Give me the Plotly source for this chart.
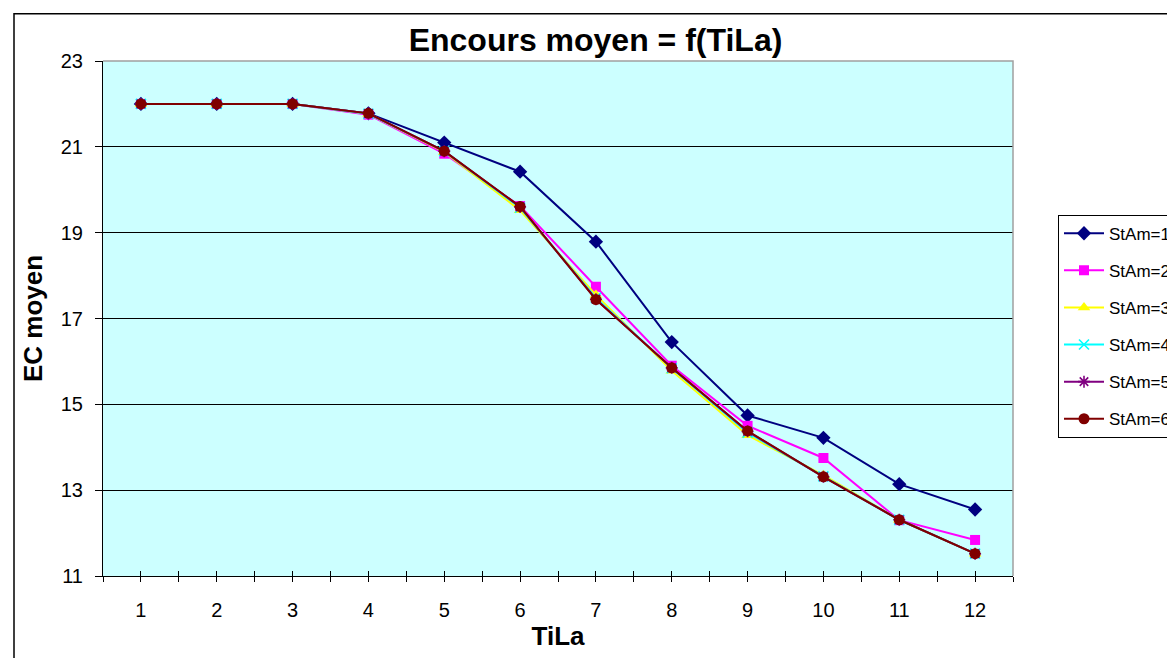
import plotly.graph_objects as go

tila = [1, 2, 3, 4, 5, 6, 7, 8, 9, 10, 11, 12]
stam1 = [22, 22, 22, 21.78, 21.10, 20.42, 18.79, 16.45, 14.74, 14.22, 13.14, 12.55]
stam2 = [22, 22, 22, 21.75, 20.84, 19.62, 17.74, 15.90, 14.50, 13.75, 12.30, 11.84]
stam3 = [22, 22, 22, 21.77, 20.88, 19.52, 17.55, 15.78, 14.28, 13.35, 12.31, 11.52]
stam4 = [22, 22, 22, 21.77, 20.90, 19.58, 17.48, 15.84, 14.34, 13.32, 12.31, 11.52]
stam5 = [22, 22, 22, 21.78, 20.90, 19.60, 17.45, 15.85, 14.37, 13.31, 12.31, 11.52]
stam6 = [22, 22, 22, 21.78, 20.90, 19.61, 17.44, 15.85, 14.38, 13.31, 12.31, 11.52]
series_names = ["StAm=1", "StAm=2", "StAm=3", "StAm=4", "StAm=5", "StAm=6"]
y_ticks = [11, 13, 15, 17, 19, 21, 23]

FONT = "Liberation Sans, Arial, sans-serif"

styles = [
    dict(color="#000080", symbol="diamond", size=11, open=False),
    dict(color="#FF00FF", symbol="square", size=10, open=False),
    dict(color="#FFFF00", symbol="triangle-up", size=11, open=False),
    dict(color="#00FFFF", symbol="x-thin", size=10, open=True),
    dict(color="#800080", symbol="asterisk", size=10, open=True),
    dict(color="#800000", symbol="circle", size=11, open=False),
]
data = [stam1, stam2, stam3, stam4, stam5, stam6]

fig = go.Figure()
for i, (name, vals, st) in enumerate(zip(series_names, data, styles)):
    if st["open"]:
        marker = dict(symbol=st["symbol"], size=st["size"], color=st["color"],
                      line=dict(color=st["color"], width=1.6))
    else:
        marker = dict(symbol=st["symbol"], size=st["size"], color=st["color"],
                      line=dict(width=0))
    fig.add_trace(go.Scatter(
        x=tila, y=vals, name=name, mode="lines+markers",
        line=dict(color=st["color"], width=2),
        marker=marker, legendgroup=name,
        xaxis="x2" if i == 5 else "x",
    ))

half_vals = [v / 2 for v in range(1, 26)]
half_text = [str(int(v)) if v == int(v) else "" for v in half_vals]

fig.update_layout(
    width=1175, height=658,
    margin=dict(l=95, r=170, t=53, b=90, autoexpand=False),
    paper_bgcolor="white",
    plot_bgcolor="#CCFFFF",
    font=dict(family=FONT, color="black"),
    title=dict(text="<b>Encours moyen = f(TiLa)</b>", xref="container", x=0.5,
               xanchor="center", yref="container", y=1 - 31.5 / 658, yanchor="middle",
               font=dict(size=32, family=FONT, color="black")),
    xaxis=dict(range=[0.5, 12.5], tickmode="array", tickvals=half_vals, ticktext=half_text,
               ticks="outside", ticklen=5, tickcolor="black", tickwidth=1,
               showline=True, linecolor="black", linewidth=1, showgrid=False, zeroline=False,
               tickfont=dict(size=20, family=FONT), ticklabelstandoff=11,
               title=dict(text="<b>TiLa</b>", font=dict(size=26, family=FONT), standoff=6)),
    xaxis2=dict(range=[0.5, 12.5], overlaying="x", anchor="y", side="bottom",
                tickmode="array", tickvals=half_vals, ticktext=["" for _ in half_vals],
                ticks="inside", ticklen=5, tickcolor="black", tickwidth=1,
                showline=False, showgrid=False, zeroline=False),
    yaxis=dict(range=[11, 23], tickmode="array", tickvals=y_ticks,
               ticks="outside", ticklen=7, tickcolor="black", tickwidth=1,
               showline=True, linecolor="black", linewidth=1,
               showgrid=True, gridcolor="black", gridwidth=1, zeroline=False,
               tickfont=dict(size=20, family=FONT), ticklabelstandoff=8,
               title=dict(text="<b>EC moyen</b>", font=dict(size=26, family=FONT), standoff=10)),
    legend=dict(x=(1050 - 95) / 910, xanchor="left", y=(568.3 - 207) / 515, yanchor="top",
                bgcolor="white", bordercolor="black", borderwidth=1,
                font=dict(size=17, family=FONT, color="black"),
                tracegroupgap=12, itemwidth=40),
    showlegend=True,
    shapes=[
        dict(type="path", xref="x domain", yref="y domain",
             path="M 0 1 L 1 1 L 1 0", line=dict(color="#A0A0A0", width=1.5), layer="above"),
        dict(type="rect", xref="paper", yref="paper",
             x0=-89.0 / 910, x1=1.25, y0=-0.3, y1=(568.3 - 6) / 515,
             line=dict(color="black", width=1.5), fillcolor="rgba(0,0,0,0)", layer="above"),
    ],
)

fig.write_html("out.html")
